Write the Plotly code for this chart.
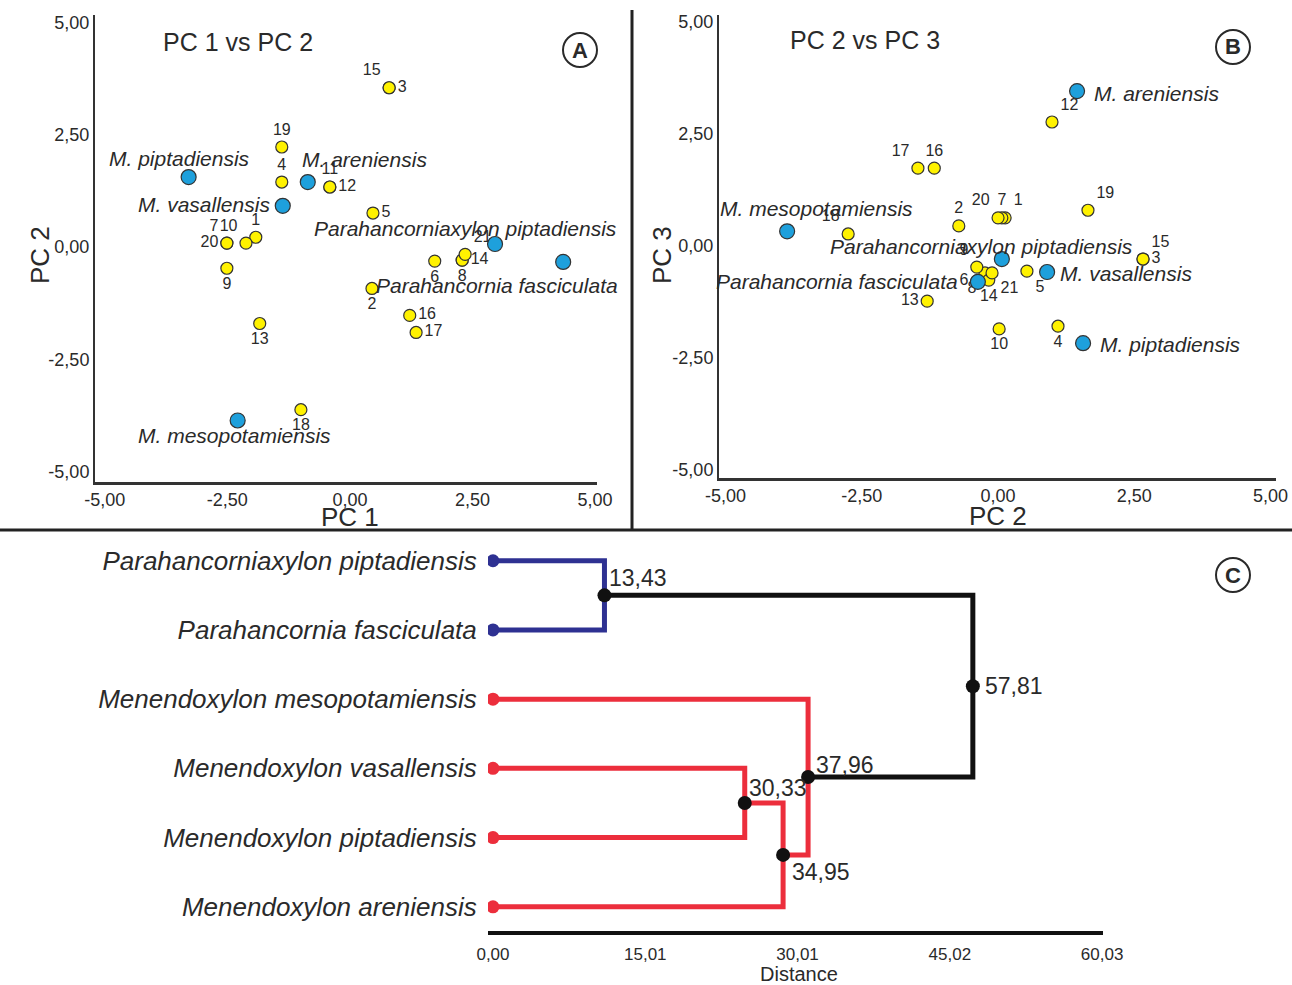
import plotly.graph_objects as go

W, H = 1292, 985

# ---------------- Panel A : PC 1 vs PC 2 ----------------
A_IDS = ["1", "2", "3", "4", "5", "6", "7", "8", "9", "10", "11",
         "12", "13", "14", "15", "16", "17", "18", "19", "20", "21"]
A_PC1 = [-1.92, 0.45, 0.80, -1.39, 0.47, 1.73, -2.51, 2.29, -2.51, -2.12, -0.41,
         -0.41, -1.84, 2.29, 0.80, 1.22, 1.35, -1.00, -1.39, -2.51, 2.35]
A_PC2 = [0.22, -0.92, 3.55, 1.45, 0.76, -0.31, 0.09, -0.29, -0.47, 0.09, 1.34,
         1.34, -1.70, -0.29, 3.55, -1.52, -1.90, -3.62, 2.23, 0.09, -0.16]

A_SPECIES = ["M. piptadiensis", "M. areniensis", "M. vasallensis",
             "Parahancorniaxylon piptadiensis", "Parahancornia fasciculata",
             "M. mesopotamiensis"]
A_SP_PC1 = [-3.29, -0.86, -1.37, 2.96, 4.35, -2.29]
A_SP_PC2 = [1.56, 1.45, 0.92, 0.07, -0.33, -3.86]

# ---------------- Panel B : PC 2 vs PC 3 ----------------
B_IDS = ["1", "2", "3", "4", "5", "6", "7", "8", "9", "10",
         "12", "13", "14", "15", "16", "17", "18", "19", "20", "21"]
B_PC2 = [0.13, -0.72, 2.66, 1.10, 0.53, -0.39, 0.07, -0.24, -0.39, 0.02,
         0.99, -1.30, -0.17, 2.66, -1.17, -1.47, -2.75, 1.65, 0.00, -0.11]
B_PC3 = [0.63, 0.45, -0.29, -1.79, -0.56, -0.78, 0.63, -0.60, -0.47, -1.85,
         2.77, -1.23, -0.76, -0.29, 1.74, 1.74, 0.27, 0.80, 0.63, -0.60]

B_SPECIES = ["M. areniensis", "M. mesopotamiensis", "Parahancorniaxylon piptadiensis",
             "Parahancornia fasciculata", "M. vasallensis", "M. piptadiensis"]
B_SP_PC2 = [1.45, -3.87, 0.07, -0.37, 0.90, 1.56]
B_SP_PC3 = [3.46, 0.33, -0.29, -0.80, -0.58, -2.17]

PCA_TICKS = [-5.0, -2.5, 0.0, 2.5, 5.0]
PCA_TICK_LABELS = ["-5,00", "-2,50", "0,00", "2,50", "5,00"]

# ---------------- Panel C : dendrogram ----------------
LEAVES = ["Parahancorniaxylon piptadiensis", "Parahancornia fasciculata",
          "Menendoxylon mesopotamiensis", "Menendoxylon vasallensis",
          "Menendoxylon piptadiensis", "Menendoxylon areniensis"]
LEAF_GROUP = ["Parahancornia", "Parahancornia", "Menendoxylon",
              "Menendoxylon", "Menendoxylon", "Menendoxylon"]
MERGE_LEFT = [0, 3, 7, 2, 6]      # node ids: leaves 0-5, merges 6-10
MERGE_RIGHT = [1, 4, 5, 8, 9]
MERGE_HEIGHT = [13.43, 30.33, 34.95, 37.96, 57.81]
DIST_TICKS = [0.00, 15.01, 30.01, 45.02, 60.03]
DIST_TICK_LABELS = ["0,00", "15,01", "30,01", "45,02", "60,03"]

# ---------------- styles ----------------
FONT = "Liberation Sans, Arial, sans-serif"
TXT = "#2a2a2a"
YELLOW = "#fff200"
CYAN = "#1ea0dc"
GROUP_COLOR = {"Parahancornia": "#2e3192", "Menendoxylon": "#ec2e3c"}
BLACK = "#111111"

A_NUM_POS = {"1": "top center", "2": "bottom center", "3": "middle right", "4": "top center",
             "5": "middle right", "6": "bottom center", "7": "top left", "8": "bottom center",
             "9": "bottom center", "10": "top left", "11": "top center", "12": "middle right",
             "13": "bottom center", "14": "middle right", "15": "top left", "16": "middle right",
             "17": "middle right", "18": "bottom center", "19": "top center", "20": "middle left",
             "21": "top right"}
B_NUM_POS = {"1": "top right", "2": "top center", "3": "middle right", "4": "bottom center",
             "5": "bottom right", "6": "middle left", "7": "top center", "8": "bottom left",
             "9": "top left", "10": "bottom center", "12": "top right", "13": "middle left",
             "14": "bottom center", "15": "top right", "16": "top center", "17": "top left",
             "18": "top left", "19": "top right", "20": "top left", "21": "bottom right"}
# label placement: (xanchor, xshift, yshift)
A_SP_LABEL = {"M. piptadiensis": ("center", -9, 19), "M. areniensis": ("left", -8, 23),
              "M. vasallensis": ("right", -11, 1),
              "Parahancorniaxylon piptadiensis": ("right", 124, 16),
              "Parahancornia fasciculata": ("right", 57, -24),
              "M. mesopotamiensis": ("center", -3, -15)}
B_SP_LABEL = {"M. areniensis": ("left", 15, -2), "M. mesopotamiensis": ("center", 29, 23),
              "Parahancorniaxylon piptadiensis": ("right", 133, 13),
              "Parahancornia fasciculata": ("right", -18, 0),
              "M. vasallensis": ("left", 11, -1), "M. piptadiensis": ("left", 15, -1)}
# merge label placement: (xshift, yshift)
MERGE_LABEL = [(3, 17), (2, 15), (7, -17), (6, 12), (10, 0)]

fig = go.Figure()

def add_pca(ids, xs, ys, pos, sp, sx, sy, splab, xa, ya):
    fig.add_trace(go.Scatter(
        x=xs, y=ys, xaxis=xa, yaxis=ya, mode="markers+text", text=ids,
        textposition=[pos[i] for i in ids],
        textfont=dict(family=FONT, size=16, color=TXT),
        marker=dict(size=12, color=YELLOW, line=dict(color="#333", width=1.2)),
        showlegend=False, hoverinfo="skip"))
    fig.add_trace(go.Scatter(
        x=sx, y=sy, xaxis=xa, yaxis=ya, mode="markers",
        marker=dict(size=15, color=CYAN, line=dict(color="#333", width=1.2)),
        showlegend=False, hoverinfo="skip"))
    for name, x, y in zip(sp, sx, sy):
        anc, dx, dy = splab[name]
        fig.add_annotation(x=x, y=y, xref=xa, yref=ya, text="<i>" + name + "</i>",
                           showarrow=False, xanchor=anc, yanchor="middle",
                           xshift=dx, yshift=dy,
                           font=dict(family=FONT, size=21, color=TXT))

add_pca(A_IDS, A_PC1, A_PC2, A_NUM_POS, A_SPECIES, A_SP_PC1, A_SP_PC2, A_SP_LABEL, "x", "y")
add_pca(B_IDS, B_PC2, B_PC3, B_NUM_POS, B_SPECIES, B_SP_PC2, B_SP_PC3, B_SP_LABEL, "x2", "y2")

# ---- dendrogram geometry from merge table ----
n_leaves = len(LEAVES)
node_x = [0.0] * n_leaves
node_y = [float(i) for i in range(n_leaves)]
node_groups = [{g} for g in LEAF_GROUP]
seg = {}
for a, b, h in zip(MERGE_LEFT, MERGE_RIGHT, MERGE_HEIGHT):
    groups = node_groups[a] | node_groups[b]
    col = GROUP_COLOR[next(iter(groups))] if len(groups) == 1 else BLACK
    xs = [node_x[a], h, h, node_x[b], None]
    ys = [node_y[a], node_y[a], node_y[b], node_y[b], None]
    seg.setdefault(col, ([], []))
    seg[col][0].extend(xs)
    seg[col][1].extend(ys)
    node_x.append(h)
    node_y.append((node_y[a] + node_y[b]) / 2)
    node_groups.append(groups)

for col, (xs, ys) in seg.items():
    fig.add_trace(go.Scatter(x=xs, y=ys, xaxis="x3", yaxis="y3", mode="lines",
                             line=dict(color=col, width=5), showlegend=False,
                             hoverinfo="skip"))
fig.add_trace(go.Scatter(
    x=node_x[:n_leaves], y=node_y[:n_leaves], xaxis="x3", yaxis="y3", mode="markers",
    marker=dict(size=13, color=[GROUP_COLOR[g] for g in LEAF_GROUP]),
    showlegend=False, hoverinfo="skip"))
fig.add_trace(go.Scatter(
    x=node_x[n_leaves:], y=node_y[n_leaves:], xaxis="x3", yaxis="y3", mode="markers",
    marker=dict(size=14, color=BLACK), showlegend=False, hoverinfo="skip"))
for k, (h, (dx, dy)) in enumerate(zip(MERGE_HEIGHT, MERGE_LABEL)):
    fig.add_annotation(x=h, y=node_y[n_leaves + k], xref="x3", yref="y3",
                       text=f"{h:.2f}".replace(".", ","), showarrow=False,
                       xanchor="left", yanchor="middle", xshift=dx, yshift=dy,
                       font=dict(family=FONT, size=23, color=TXT))

# ---------------- axes ----------------
def px_x(p):
    return p / W

def px_y(p):
    return 1 - p / H

pca_axis = dict(showgrid=False, zeroline=False, showline=True, linecolor="#333",
                ticks="", tickvals=PCA_TICKS, ticktext=PCA_TICK_LABELS,
                tickfont=dict(family=FONT, size=18, color=TXT), automargin=False)

# drawn-axis stretch of the distance scale in the original figure
AXIS_STRETCH = 1.2225

fig.update_layout(
    width=W, height=H, autosize=False,
    margin=dict(l=0, r=0, t=0, b=0),
    paper_bgcolor="white", plot_bgcolor="white",
    xaxis=dict(pca_axis, domain=[px_x(95), px_x(597)], range=[-5.20, 5.04], anchor="y",
               linewidth=2.5),
    yaxis=dict(pca_axis, domain=[px_y(482), px_y(15)], range=[-5.23, 5.17], anchor="x",
               linewidth=2),
    xaxis2=dict(pca_axis, domain=[px_x(719), px_x(1276)], range=[-5.12, 5.10], anchor="y2",
                linewidth=2.5),
    yaxis2=dict(pca_axis, domain=[px_y(478), px_y(15)], range=[-5.18, 5.16], anchor="x2",
                linewidth=2),
    xaxis3=dict(domain=[px_x(488), px_x(1103)], range=[-0.60, 73.49], anchor="y3",
                showgrid=False, zeroline=False, showline=True, linecolor=BLACK, linewidth=4,
                ticks="outside", ticklen=5, tickcolor="rgba(0,0,0,0)",
                tickvals=[t * AXIS_STRETCH for t in DIST_TICKS], ticktext=DIST_TICK_LABELS,
                tickfont=dict(family=FONT, size=17, color=TXT), automargin=False),
    yaxis3=dict(domain=[px_y(931), px_y(540)], range=[5.35, -0.30], anchor="x3",
                showgrid=False, zeroline=False, showline=False,
                ticks="outside", ticklen=5, tickcolor="rgba(0,0,0,0)",
                tickvals=list(range(n_leaves)), ticktext=["<i>" + s + "</i>" for s in LEAVES],
                tickfont=dict(family=FONT, size=26, color=TXT), automargin=False),
)

# axis titles
for txt, cx, cy, ang, size in [("PC 1", 350, 517, 0, 26), ("PC 2", 40, 255, -90, 26),
                               ("PC 2", 998, 516, 0, 26), ("PC 3", 662, 255, -90, 26),
                               ("Distance", 799, 974, 0, 20)]:
    fig.add_annotation(x=px_x(cx), y=px_y(cy), xref="paper", yref="paper", text=txt,
                       showarrow=False, xanchor="center", yanchor="middle", textangle=ang,
                       font=dict(family=FONT, size=size, color=TXT))

# panel titles and circled letters
for txt, cx, cy in [("PC 1 vs PC 2", 238, 42), ("PC 2 vs PC 3", 865, 40)]:
    fig.add_annotation(x=px_x(cx), y=px_y(cy), xref="paper", yref="paper", text=txt,
                       showarrow=False, xanchor="center", yanchor="middle",
                       font=dict(family=FONT, size=25, color=TXT))
for letter, cx, cy in [("A", 580, 50), ("B", 1233, 47), ("C", 1233, 575)]:
    r = 17
    fig.add_shape(type="circle", xref="paper", yref="paper",
                  x0=px_x(cx - r), x1=px_x(cx + r), y0=px_y(cy + r), y1=px_y(cy - r),
                  line=dict(color=TXT, width=2))
    fig.add_annotation(x=px_x(cx), y=px_y(cy), xref="paper", yref="paper",
                       text="<b>" + letter + "</b>", showarrow=False,
                       xanchor="center", yanchor="middle",
                       font=dict(family=FONT, size=22, color=TXT))

# panel dividers
fig.add_shape(type="line", xref="paper", yref="paper", x0=0, x1=1,
              y0=px_y(530), y1=px_y(530), line=dict(color="#222", width=3))
fig.add_shape(type="line", xref="paper", yref="paper", x0=px_x(632), x1=px_x(632),
              y0=px_y(530), y1=px_y(10), line=dict(color="#222", width=3))

fig.write_html("out.html", config={"displayModeBar": False},
               post_script="document.body.style.margin='0';document.body.style.padding='0';")
